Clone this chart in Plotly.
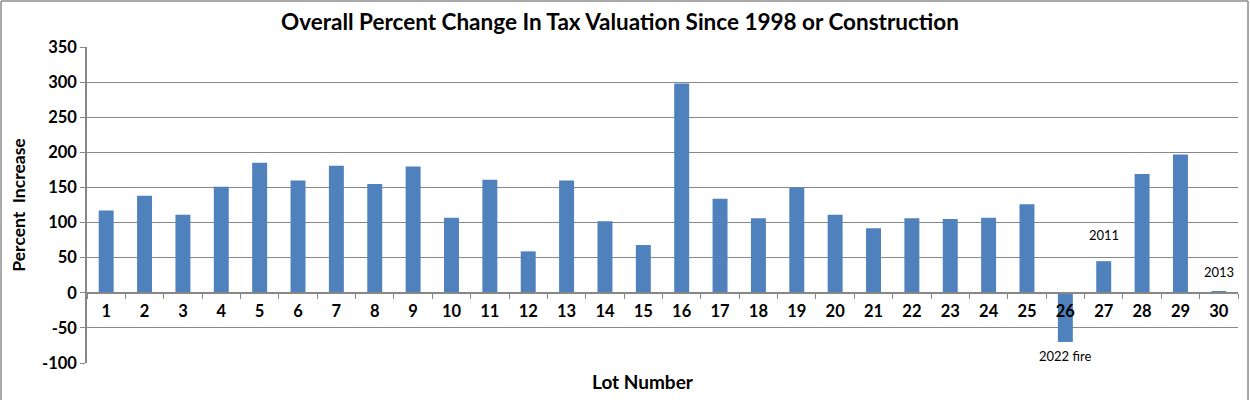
import plotly.graph_objects as go

lots = list(range(1, 31))
pct_change = [117, 138, 111, 151, 185, 160, 181, 155, 180, 107,
              161, 59, 160, 102, 68, 298, 134, 106, 150, 111,
              92, 106, 105, 107, 126, -70, 45, 169, 197, 1.5]

label_lots = [26, 27, 30]
label_texts = ["2022 fire", "2011", "2013"]

y_ticks = [-100, -50, 0, 50, 100, 150, 200, 250, 300, 350]

FONT = "Lato"
GRID = "#878787"
BAR = "#4F81BD"

fig = go.Figure()
fig.add_trace(go.Bar(
    x=lots, y=pct_change,
    marker=dict(color=BAR, line=dict(width=0)),
    showlegend=False, hoverinfo="x+y",
))

# data-label offsets (pixels, style only)
label_shift = {26: -4, 27: 16, 30: 10}
for lot, txt in zip(label_lots, label_texts):
    v = pct_change[lots.index(lot)]
    fig.add_annotation(
        x=lot, y=v, text=txt, showarrow=False,
        yanchor="top" if v < 0 else "bottom",
        yshift=label_shift[lot],
        font=dict(family=FONT, size=13, color="#000000"),
    )

fig.add_annotation(
    x=0.483, y=-0.057, xref="paper", yref="paper", yanchor="middle",
    text="Lot Number", showarrow=False,
    font=dict(family=FONT, size=19, color="#000000", weight="bold"),
)

# outer chart border
for x0, y0, x1, y1 in [(-0.0747, 1.1456, 1.0087, 1.1456),
                       (-0.0747, 1.1456, -0.0747, -0.2),
                       (1.0087, 1.1456, 1.0087, -0.2)]:
    fig.add_shape(type="line", xref="paper", yref="paper",
                  x0=x0, y0=y0, x1=x1, y1=y1,
                  line=dict(color="#8c8c8c", width=1.5))

fig.update_layout(
    width=1250, height=400,
    margin=dict(l=87, r=12, t=47, b=37),
    paper_bgcolor="white", plot_bgcolor="white",
    bargap=0.61,
    title=dict(
        text="Overall Percent Change In Tax Valuation Since 1998 or Construction",
        x=0.496, xanchor="center", y=0.945, yanchor="middle",
        font=dict(family=FONT, size=22.5, color="#000000", weight="bold"),
    ),
    font=dict(family=FONT, color="#000000"),
)

fig.update_xaxes(
    type="linear", range=[0.5, 30.5],
    tickmode="array", tickvals=lots, ticktext=[str(l) for l in lots],
    anchor="free", position=100 / 450,
    showline=True, linecolor=GRID, linewidth=1.5,
    ticks="", ticklabelstandoff=4,
    showgrid=False, zeroline=False,
    tickfont=dict(family=FONT, size=16.5, color="#000000", weight="bold"),
    minor=dict(tickvals=[l + 0.5 for l in lots[:-1]] + [0.5, 30.5],
               ticks="outside", ticklen=5, tickcolor=GRID, showgrid=False),
)

fig.update_yaxes(
    range=[-100, 350], tickmode="array", tickvals=y_ticks,
    ticktext=[str(t) for t in y_ticks],
    showgrid=True, gridcolor=GRID, gridwidth=1,
    showline=True, linecolor=GRID, linewidth=1.5,
    ticks="outside", ticklen=5, tickcolor=GRID,
    zeroline=True, zerolinecolor=GRID, zerolinewidth=1.5,
    tickfont=dict(family=FONT, size=16.5, color="#000000", weight="bold"),
    title=dict(text="Percent  Increase", standoff=12,
               font=dict(family=FONT, size=17.5, color="#000000", weight="bold")),
)

fig.write_html("out.html", config={"displayModeBar": False},
               post_script="document.body.style.margin='0';document.body.style.overflow='hidden';")
